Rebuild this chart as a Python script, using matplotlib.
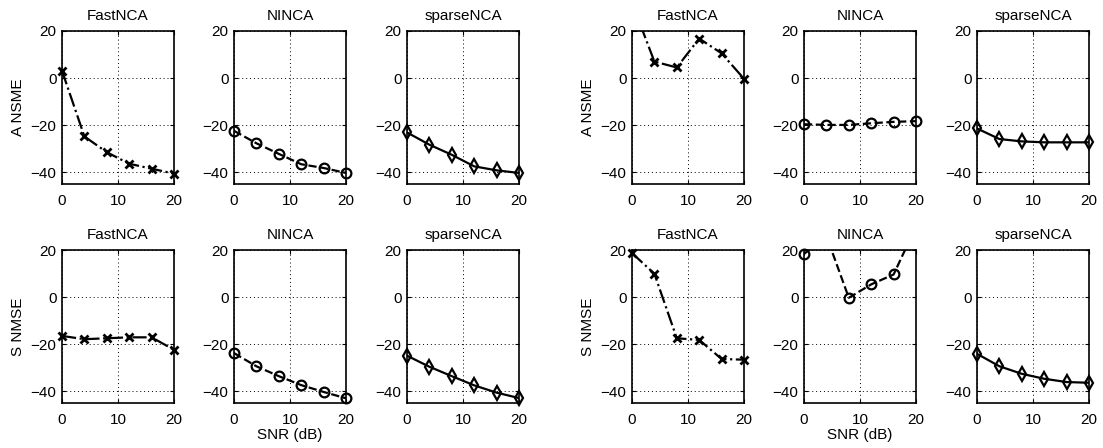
import matplotlib
matplotlib.use("Agg")
import matplotlib.pyplot as plt
from matplotlib.transforms import Bbox, TransformedBbox

plt.rcParams['font.family'] = ['Liberation Sans', 'DejaVu Sans']
plt.rcParams['font.size'] = 11

snr = [0, 4, 8, 12, 16, 20]
methods = ["FastNCA", "NINCA", "sparseNCA"]

# group 1 (left block)
g1_a_fastnca = [3.1, -24.8, -31.5, -36.4, -38.5, -40.6]
g1_a_ninca = [-22.4, -27.7, -32.2, -36.6, -38.2, -40.3]
g1_a_sparse = [-23.1, -28.3, -32.6, -37.5, -39.2, -40.3]
g1_s_fastnca = [-16.5, -17.9, -17.5, -17.1, -17.1, -22.4]
g1_s_ninca = [-23.8, -29.4, -33.6, -37.4, -40.3, -43.0]
g1_s_sparse = [-24.9, -29.6, -33.6, -37.5, -40.6, -42.9]

# group 2 (right block)
g2_a_fastnca = [32.0, 7.0, 4.5, 16.8, 10.5, -0.3]
g2_a_ninca = [-19.6, -19.9, -19.9, -19.2, -18.6, -18.3]
g2_a_sparse = [-21.4, -25.9, -26.9, -27.3, -27.3, -27.3]
g2_s_fastnca = [18.7, 9.9, -17.5, -18.2, -26.3, -26.6]
g2_s_ninca = [18.3, 26.0, -0.3, 5.4, 9.6, 30.0]
g2_s_sparse = [-24.1, -29.4, -32.6, -34.7, -36.1, -36.4]

linestyles = ['-.', '--', '-']
markers = [('x', 5.5, 2.0), ('o', 7, 1.6), ('d', 7.5, 1.6)]

fig = plt.figure(figsize=(11.03, 4.48), dpi=100)

W, H = 1103.0, 448.0
lefts = [[62, 234, 407], [632, 804, 977]]
row_bottoms = [184, 403]
ax_w, ax_h = 112, 153

data = [
    [[g1_a_fastnca, g1_a_ninca, g1_a_sparse], [g1_s_fastnca, g1_s_ninca, g1_s_sparse]],
    [[g2_a_fastnca, g2_a_ninca, g2_a_sparse], [g2_s_fastnca, g2_s_ninca, g2_s_sparse]],
]
ylabels = ["A NSME", "S NMSE"]

for g in range(2):
    for r in range(2):
        for m in range(3):
            ax = fig.add_axes([lefts[g][m] / W, 1 - row_bottoms[r] / H, ax_w / W, ax_h / H])
            y = data[g][r][m]
            ax.plot(snr, y, color='k', lw=1.6, ls=linestyles[m])
            mk, ms, mew = markers[m]
            pts, = ax.plot(snr, y, ls='none', marker=mk, ms=ms, mew=mew,
                           mfc='none', mec='k')
            # let edge markers spill over the frame a bit, but hide far off-chart ones
            pts.set_clip_box(TransformedBbox(Bbox([[-0.06, -0.06], [1.06, 1.04]]), ax.transAxes))
            ax.set_xlim(0, 20)
            ax.set_ylim(-45, 20)
            ax.set_xticks([0, 10, 20])
            ax.set_yticks([-40, -20, 0, 20])
            ax.grid(True, ls=(0, (1, 3)), color='k', lw=0.7)
            ax.tick_params(direction='in', top=True, right=True, length=3, labelsize=11)
            ax.tick_params(axis='x', pad=7)
            ax.tick_params(axis='y', pad=4)
            for s in ax.spines.values():
                s.set_linewidth(1.2)
            ax.set_title(methods[m], fontsize=11, pad=8)
            if m == 0:
                ax.set_ylabel(ylabels[r], fontsize=11)
            if r == 1 and m == 1:
                ax.set_xlabel("SNR (dB)", fontsize=11, labelpad=1)

fig.savefig("out.png", dpi=100)
